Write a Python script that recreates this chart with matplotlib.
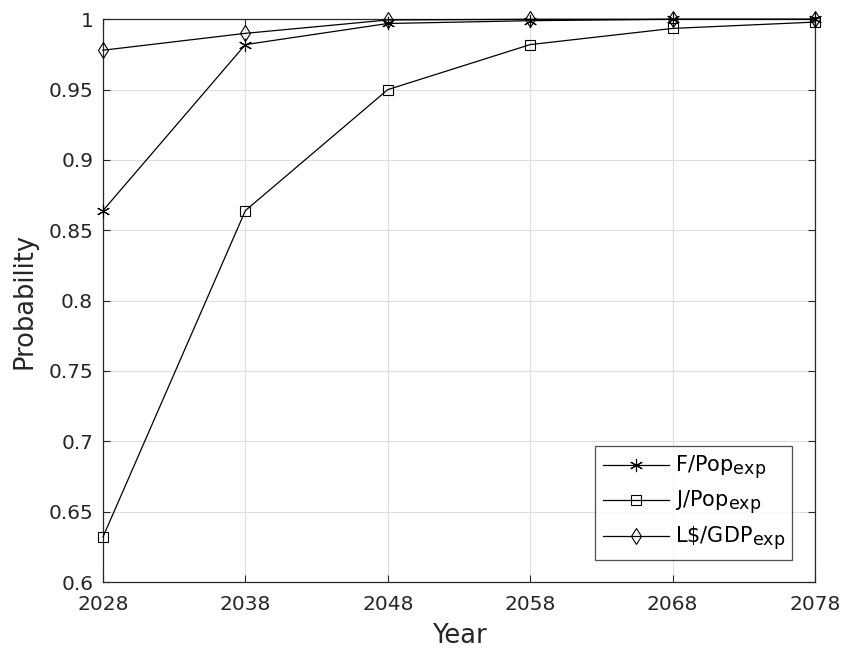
import matplotlib
matplotlib.use("Agg")
import matplotlib.pyplot as plt
import matplotlib._mathtext as _mt

_mt.SHRINK_FACTOR = 0.84

years = [2028, 2038, 2048, 2058, 2068, 2078]
f_pop = [0.864, 0.982, 0.997, 0.999, 1.0, 1.0]
j_pop = [0.632, 0.864, 0.950, 0.982, 0.9935, 0.998]
l_gdp = [0.978, 0.990, 0.9995, 1.0, 1.0, 1.0]
labels = [r"F/Pop$_{\rm exp}$", r"J/Pop$_{\rm exp}$", r"L\$/GDP$_{\rm exp}$"]
yticks = [0.6, 0.65, 0.7, 0.75, 0.8, 0.85, 0.9, 0.95, 1.0]
yticklabels = ["0.6", "0.65", "0.7", "0.75", "0.8", "0.85", "0.9", "0.95", "1"]

plt.rcParams["font.family"] = ["DejaVu Sans"]
plt.rcParams["mathtext.fontset"] = "dejavusans"
plt.rcParams["mathtext.default"] = "regular"

txt = "#262626"
fig = plt.figure(figsize=(8.44, 6.49), dpi=100)
ax = fig.add_axes([0.122, 0.1032, 0.8436, 0.8671])

common = dict(color="black", lw=0.9, mew=0.8, clip_on=False, zorder=3)
ax.plot(years, f_pop, marker=(6, 2, 0), ms=9.5, label=labels[0], **common)
ax.plot(years, j_pop, marker="s", ms=7.2, mfc="none", label=labels[1], **common)
ax.plot(years, l_gdp, marker="d", ms=8, mfc="none", label=labels[2], **common)

ax.set_xlim(2028, 2078)
ax.set_ylim(0.6, 1.0)
ax.set_xticks(years)
ax.set_xticklabels([str(y) for y in years])
ax.set_yticks(yticks)
ax.set_yticklabels(yticklabels)
ax.grid(True, color="#dedede", lw=0.8)
ax.set_axisbelow(True)
ax.tick_params(direction="in", top=True, right=True, labelsize=14.5, colors=txt, length=5, width=0.8)
ax.tick_params(axis="y", pad=7)
ax.tick_params(axis="x", pad=9.5)
for s in ax.spines.values():
    s.set_color(txt)
    s.set_linewidth(0.9)
ax.set_xlabel("Year", fontsize=18.5, color=txt, labelpad=6)
ax.set_ylabel("Probability", fontsize=18.5, color=txt, labelpad=8)

leg = ax.legend(loc="lower right", bbox_to_anchor=(0.968, 0.039), borderaxespad=0, fontsize=15,
                frameon=True, fancybox=False, edgecolor=txt, handlelength=3.2, borderpad=0.35,
                labelspacing=0.35, handletextpad=0.25)
leg.get_frame().set_linewidth(0.9)

fig.savefig("out.png", dpi=100)
